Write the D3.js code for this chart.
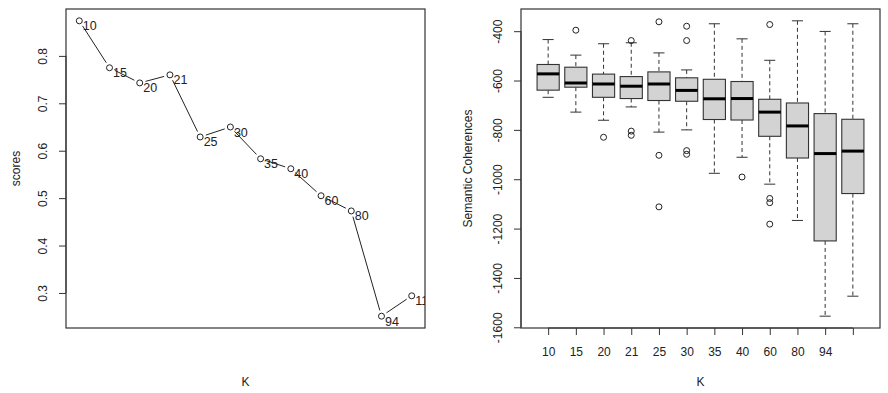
<!DOCTYPE html>
<html>
<head>
<meta charset="utf-8">
<script src="https://cdn.jsdelivr.net/npm/d3@7"></script>
<style>
  body { margin: 0; background: #fff; }
  svg { font-family: "Liberation Sans", Arial, sans-serif; }
  text { fill: #222; }
</style>
</head>
<body>
<svg id="chart" width="888" height="393"></svg>
<script>
// -- data -- //
let kValues = ["10", "15", "20", "21", "25", "30", "35", "40", "60", "80", "94", "110"];
let kTickLabels = ["10", "15", "20", "21", "25", "30", "35", "40", "60", "80", "94", ""];
let scores = [0.874, 0.775, 0.743, 0.760, 0.629, 0.650, 0.583, 0.562, 0.505, 0.473, 0.251, 0.294];
let scoreTicks = [0.3, 0.4, 0.5, 0.6, 0.7, 0.8];

let whiskerHigh = [-434, -497, -451, -447, -488, -557, -370, -431, -518, -358, -401, -370];
let q3 = [-535, -546, -574, -584, -565, -589, -595, -604, -676, -691, -734, -757];
let medians = [-573, -610, -614, -623, -614, -640, -674, -673, -728, -784, -896, -886];
let q1 = [-639, -627, -668, -673, -681, -684, -758, -760, -826, -914, -1250, -1058];
let whiskerLow = [-668, -728, -761, -707, -809, -800, -976, -911, -1020, -1167, -1555, -1474];
let outliers = [[], [-396], [-830], [-438, -805, -822], [-362, -903, -1112], [-380, -438, -884, -899],
  [], [-991], [-373, -1078, -1095, -1182], [], [], []];
let coherenceTicks = [-1600, -1400, -1200, -1000, -800, -600, -400];

let svg = d3.select("#chart");
let ink = "#333";

// R style 4% padding
let pad = (lo, hi) => { let d = (hi - lo) * 0.04; return [lo - d, hi + d]; };

// ================= left panel: scores vs K ================= //
let L = { x0: 66, x1: 425, y0: 9, y1: 328 };
let xL = d3.scaleLinear().domain(pad(1, scores.length)).range([L.x0, L.x1]);
let yL = d3.scaleLinear().domain(pad(d3.min(scores), d3.max(scores))).range([L.y1, L.y0]);

let left = svg.append("g");
left.append("clipPath").attr("id", "clipL")
  .append("rect").attr("x", L.x0).attr("y", L.y0).attr("width", L.x1 - L.x0).attr("height", L.y1 - L.y0);

// -- y axis -- //
let yAxisL = d3.axisLeft(yL).tickValues(scoreTicks).tickSize(7).tickFormat(d3.format(".1f"));
left.append("g").attr("transform", `translate(${L.x0},0)`).call(yAxisL)
  .call(g => g.select(".domain").attr("stroke", ink).attr("d", `M0,${yL(0.3)}V${yL(0.8)}`))
  .call(g => g.selectAll(".tick line").attr("stroke", ink))
  .selectAll("text")
  .attr("font-size", 12).attr("fill", "#222")
  .attr("transform", "rotate(-90)")
  .attr("x", 0).attr("y", -23).attr("dy", "0.35em")
  .style("text-anchor", "middle");

// -- segments between points, shortened like R type="b" -- //
let pts = scores.map((s, i) => ({ x: xL(i + 1), y: yL(s), k: kValues[i] }));
let segs = left.append("g").attr("clip-path", "url(#clipL)");
for (let i = 0; i < pts.length - 1; i++) {
  let a = pts[i], b = pts[i + 1];
  let dx = b.x - a.x, dy = b.y - a.y, len = Math.hypot(dx, dy), gap = 6;
  if (len <= 2 * gap) continue;
  segs.append("line")
    .attr("x1", a.x + dx / len * gap).attr("y1", a.y + dy / len * gap)
    .attr("x2", b.x - dx / len * gap).attr("y2", b.y - dy / len * gap)
    .attr("stroke", "#222").attr("stroke-width", 1);
}

segs.selectAll("circle").data(pts).enter().append("circle")
  .attr("cx", d => d.x).attr("cy", d => d.y).attr("r", 3)
  .attr("fill", "none").attr("stroke", "#222").attr("stroke-width", 1);

segs.selectAll(".lbl").data(pts).enter().append("text")
  .attr("class", "lbl")
  .attr("x", d => d.x + 3.5).attr("y", d => d.y + 9.5)
  .attr("font-size", 12.5)
  .text(d => d.k);

left.append("rect").attr("x", L.x0).attr("y", L.y0).attr("width", L.x1 - L.x0).attr("height", L.y1 - L.y0)
  .attr("fill", "none").attr("stroke", ink).attr("stroke-width", 1.2);

left.append("text").attr("transform", `translate(16,${(L.y0 + L.y1) / 2}) rotate(-90)`)
  .attr("text-anchor", "middle").attr("dy", "0.35em").attr("font-size", 12).text("scores");
left.append("text").attr("x", (L.x0 + L.x1) / 2).attr("y", 386)
  .attr("text-anchor", "middle").attr("font-size", 12).text("K");

// ================= right panel: boxplots ================= //
let R = { x0: 521, x1: 880, y0: 9, y1: 328 };
let n = kValues.length;
let xR = d3.scaleLinear().domain(pad(0.5, n + 0.5)).range([R.x0, R.x1]);
let allVals = whiskerHigh.concat(whiskerLow, outliers.flat());
let yR = d3.scaleLinear().domain(pad(d3.min(allVals), d3.max(allVals))).range([R.y1, R.y0]);

let right = svg.append("g");

// -- y axis -- //
let yAxisR = d3.axisLeft(yR).tickValues(coherenceTicks).tickSize(7);
right.append("g").attr("transform", `translate(${R.x0},0)`).call(yAxisR)
  .call(g => g.select(".domain").attr("stroke", ink).attr("d", `M0,${yR(-1600)}V${yR(-400)}`))
  .call(g => g.selectAll(".tick line").attr("stroke", ink))
  .selectAll("text")
  .attr("font-size", 12).attr("fill", "#222")
  .text(d => d3.format("d")(d).replace("−", "-"))
  .attr("transform", "rotate(-90)")
  .attr("x", 0).attr("y", -23).attr("dy", "0.35em")
  .style("text-anchor", "middle");

// -- x axis -- //
let xAxisR = d3.axisBottom(xR).tickValues(d3.range(1, n + 1)).tickSize(7)
  .tickFormat((d, i) => kTickLabels[i]);
right.append("g").attr("transform", `translate(0,${R.y1})`).call(xAxisR)
  .call(g => g.select(".domain").attr("stroke", ink).attr("d", `M${xR(1)},0H${xR(n)}`))
  .call(g => g.selectAll(".tick line").attr("stroke", ink))
  .selectAll("text")
  .attr("font-size", 12).attr("fill", "#222").attr("y", 19);

// -- boxes -- //
let bw = xR(0.4) - xR(0);
let boxes = right.selectAll(".box").data(kValues).enter().append("g").attr("class", "box");
boxes.each(function (k, i) {
  let g = d3.select(this), cx = xR(i + 1);
  // whiskers
  g.append("line").attr("x1", cx).attr("x2", cx).attr("y1", yR(whiskerHigh[i])).attr("y2", yR(q3[i]))
    .attr("stroke", ink).attr("stroke-dasharray", "4,3");
  g.append("line").attr("x1", cx).attr("x2", cx).attr("y1", yR(q1[i])).attr("y2", yR(whiskerLow[i]))
    .attr("stroke", ink).attr("stroke-dasharray", "4,3");
  // staples
  [whiskerHigh[i], whiskerLow[i]].forEach(v => {
    g.append("line").attr("x1", cx - bw / 2).attr("x2", cx + bw / 2).attr("y1", yR(v)).attr("y2", yR(v))
      .attr("stroke", ink);
  });
  g.append("rect").attr("x", cx - bw).attr("width", 2 * bw)
    .attr("y", yR(q3[i])).attr("height", yR(q1[i]) - yR(q3[i]))
    .attr("fill", "#d3d3d3").attr("stroke", ink).attr("stroke-width", 1.1);
  g.append("line").attr("x1", cx - bw).attr("x2", cx + bw).attr("y1", yR(medians[i])).attr("y2", yR(medians[i]))
    .attr("stroke", "#000").attr("stroke-width", 3);
  g.selectAll("circle").data(outliers[i]).enter().append("circle")
    .attr("cx", cx).attr("cy", v => yR(v)).attr("r", 3)
    .attr("fill", "none").attr("stroke", "#222");
});

right.append("rect").attr("x", R.x0).attr("y", R.y0).attr("width", R.x1 - R.x0).attr("height", R.y1 - R.y0)
  .attr("fill", "none").attr("stroke", ink).attr("stroke-width", 1.2);

right.append("text").attr("transform", `translate(468,${(R.y0 + R.y1) / 2}) rotate(-90)`)
  .attr("text-anchor", "middle").attr("dy", "0.35em").attr("font-size", 12).text("Semantic Coherences");
right.append("text").attr("x", (R.x0 + R.x1) / 2).attr("y", 386)
  .attr("text-anchor", "middle").attr("font-size", 12).text("K");
</script>
</body>
</html>
